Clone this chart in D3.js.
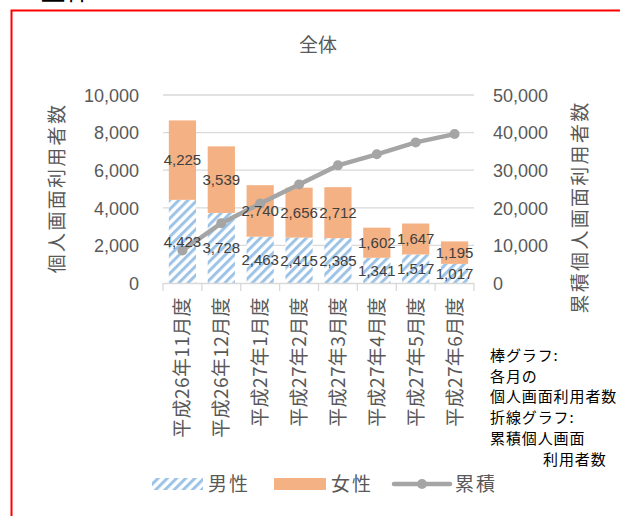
<!DOCTYPE html>
<html lang="ja">
<head>
    <meta charset="UTF-8">
    <title>全体</title>
    <script src="https://d3js.org/d3.v7.min.js"></script>
    <style>
        body {
            margin: 0;
            padding: 0;
            background: #fff;
            font-family: "Liberation Sans", "Noto Sans CJK JP", sans-serif;
        }
        .jp {
            font-family: "Noto Sans CJK JP", sans-serif;
        }
        .axis path, .axis line {
            stroke: none;
        }
        .axis text {
            fill: #595959;
            font-size: 18px;
            font-family: "Liberation Sans", sans-serif;
        }
    </style>
</head>
<body>
    <div id="chart"></div>

    <script>
        const categories = ["平成26年11月度", "平成26年12月度", "平成27年1月度", "平成27年2月度",
            "平成27年3月度", "平成27年4月度", "平成27年5月度", "平成27年6月度"];
        const male = [4423, 3728, 2463, 2415, 2385, 1341, 1517, 1017];
        const female = [4225, 3539, 2740, 2656, 2712, 1602, 1647, 1195];
        const cumulative = [8648, 15915, 21118, 26189, 31286, 34229, 37393, 39605];
        const leftTicks = [0, 2000, 4000, 6000, 8000, 10000];
        const rightTicks = [0, 10000, 20000, 30000, 40000, 50000];
        const noteLines = ["棒グラフ:", "各月の", "個人画面利用者数", "折線グラフ:", "累積個人画面", "利用者数"];

        const width = 620;
        const height = 516;
        const plot = {left: 163, right: 474, top: 95, bottom: 283};

        const svg = d3.select("#chart")
            .append("svg")
            .attr("width", width)
            .attr("height", height);

        // stripe pattern for the male bars
        const defs = svg.append("defs");
        const pat = defs.append("pattern")
            .attr("id", "hatch")
            .attr("patternUnits", "userSpaceOnUse")
            .attr("width", 6.5)
            .attr("height", 6.5)
            .attr("patternTransform", "rotate(45)");
        pat.append("rect").attr("width", 6.5).attr("height", 6.5).attr("fill", "#fff");
        pat.append("rect").attr("width", 3).attr("height", 6.5).attr("fill", "#9DC3E6");

        // page heading cut at the top and the red frame
        svg.append("text")
            .attr("class", "jp")
            .attr("x", 14)
            .attr("y", 0)
            .attr("font-size", 26)
            .attr("fill", "#000")
            .text("・全体");

        svg.append("rect")
            .attr("x", 11.5)
            .attr("y", 10.5)
            .attr("width", 700)
            .attr("height", 700)
            .attr("fill", "none")
            .attr("stroke", "#ff0000")
            .attr("stroke-width", 2);

        const x = d3.scaleBand()
            .domain(categories)
            .range([plot.left, plot.right])
            .paddingInner(0.3)
            .paddingOuter(0.15);

        const y = d3.scaleLinear().domain([0, 10000]).range([plot.bottom, plot.top]);
        const y2 = d3.scaleLinear().domain([0, 50000]).range([plot.bottom, plot.top]);

        // gridlines
        svg.append("g")
            .selectAll("line")
            .data(leftTicks.filter(d => d > 0))
            .enter()
            .append("line")
            .attr("x1", plot.left)
            .attr("x2", plot.right)
            .attr("y1", d => y(d))
            .attr("y2", d => y(d))
            .attr("stroke", "#d9d9d9")
            .attr("stroke-width", 1.3);

        // title
        svg.append("text")
            .attr("class", "jp")
            .attr("x", 318)
            .attr("y", 52)
            .attr("text-anchor", "middle")
            .attr("font-size", 19)
            .attr("fill", "#595959")
            .text("全体");

        // left and right axes
        svg.append("g")
            .attr("class", "axis")
            .attr("transform", `translate(${plot.left - 24},0)`)
            .call(d3.axisLeft(y).tickValues(leftTicks).tickSize(0).tickPadding(0).tickFormat(d3.format(",")));

        svg.append("g")
            .attr("class", "axis")
            .attr("transform", `translate(${plot.right + 19},0)`)
            .call(d3.axisRight(y2).tickValues(rightTicks).tickSize(0).tickPadding(0).tickFormat(d3.format(",")));

        svg.selectAll(".axis text").attr("dy", "0.35em");

        svg.append("text")
            .attr("class", "jp")
            .attr("transform", "translate(64,188) rotate(-90)")
            .attr("text-anchor", "middle")
            .attr("font-size", 19)
            .attr("letter-spacing", 2.3)
            .attr("fill", "#595959")
            .text("個人画面利用者数");

        svg.append("text")
            .attr("class", "jp")
            .attr("transform", "translate(587,207) rotate(-90)")
            .attr("text-anchor", "middle")
            .attr("font-size", 19)
            .attr("letter-spacing", 2.3)
            .attr("fill", "#595959")
            .text("累積個人画面利用者数");

        // stacked bars
        const bars = svg.append("g");
        bars.selectAll("rect.male")
            .data(categories)
            .enter()
            .append("rect")
            .attr("class", "male")
            .attr("x", d => x(d))
            .attr("width", x.bandwidth())
            .attr("y", (d, i) => y(male[i]))
            .attr("height", (d, i) => y(0) - y(male[i]))
            .attr("fill", "url(#hatch)");

        bars.selectAll("rect.female")
            .data(categories)
            .enter()
            .append("rect")
            .attr("class", "female")
            .attr("x", d => x(d))
            .attr("width", x.bandwidth())
            .attr("y", (d, i) => y(male[i] + female[i]))
            .attr("height", (d, i) => y(male[i]) - y(male[i] + female[i]))
            .attr("fill", "#F4B183");

        // x axis line and ticks between categories
        const xAxis = svg.append("g");
        xAxis.append("line")
            .attr("x1", plot.left)
            .attr("x2", plot.right)
            .attr("y1", plot.bottom + 0.5)
            .attr("y2", plot.bottom + 0.5)
            .attr("stroke", "#d9d9d9")
            .attr("stroke-width", 1.3);
        xAxis.selectAll("line.tick")
            .data(d3.range(categories.length + 1))
            .enter()
            .append("line")
            .attr("class", "tick")
            .attr("x1", i => plot.left + i * (plot.right - plot.left) / categories.length)
            .attr("x2", i => plot.left + i * (plot.right - plot.left) / categories.length)
            .attr("y1", plot.bottom)
            .attr("y2", plot.bottom + 8)
            .attr("stroke", "#d9d9d9")
            .attr("stroke-width", 1.3);

        xAxis.selectAll("text")
            .data(categories)
            .enter()
            .append("text")
            .attr("class", "jp")
            .attr("transform", d => `translate(${x(d) + x.bandwidth() / 2 + 7},297) rotate(-90)`)
            .attr("text-anchor", "end")
            .attr("font-size", 19)
            .attr("letter-spacing", 0.4)
            .attr("fill", "#595959")
            .text(d => d);

        // cumulative line
        const line = d3.line()
            .x(d => d[0])
            .y(d => d[1]);
        const pts = categories.map((c, i) => [x(c) + x.bandwidth() / 2, y2(cumulative[i])]);
        svg.append("path")
            .attr("d", line(pts))
            .attr("fill", "none")
            .attr("stroke", "#A5A5A5")
            .attr("stroke-width", 4.5)
            .attr("stroke-linejoin", "round");
        svg.append("g")
            .selectAll("circle")
            .data(pts)
            .enter()
            .append("circle")
            .attr("cx", d => d[0])
            .attr("cy", d => d[1])
            .attr("r", 5)
            .attr("fill", "#A5A5A5");

        // data labels, centred in each segment
        const fmt = d3.format(",");
        const labels = svg.append("g")
            .attr("font-size", 15)
            .attr("fill", "#404040")
            .attr("text-anchor", "middle");
        labels.selectAll("text.m")
            .data(categories)
            .enter()
            .append("text")
            .attr("x", d => x(d) + x.bandwidth() / 2)
            .attr("y", (d, i) => y(male[i] / 2))
            .attr("dy", "0.35em")
            .text((d, i) => fmt(male[i]));
        labels.selectAll("text.f")
            .data(categories)
            .enter()
            .append("text")
            .attr("x", d => x(d) + x.bandwidth() / 2)
            .attr("y", (d, i) => y(male[i] + female[i] / 2))
            .attr("dy", "0.35em")
            .text((d, i) => fmt(female[i]));

        // note on the right
        svg.append("g")
            .selectAll("text")
            .data(noteLines)
            .enter()
            .append("text")
            .attr("class", "jp")
            .attr("x", (d, i) => i === noteLines.length - 1 ? 543 : 490)
            .attr("y", (d, i) => 361 + i * 20.7)
            .attr("font-size", 15)
            .attr("letter-spacing", 0.9)
            .attr("fill", "#000")
            .text(d => d);

        // legend
        const legend = svg.append("g").attr("class", "jp").attr("font-size", 19)
            .attr("letter-spacing", 2).attr("fill", "#595959");
        legend.append("rect").attr("x", 152).attr("y", 478).attr("width", 51).attr("height", 12).attr("fill", "url(#hatch)");
        legend.append("text").attr("x", 208).attr("y", 491).text("男性");
        legend.append("rect").attr("x", 274).attr("y", 478).attr("width", 52).attr("height", 12).attr("fill", "#F4B183");
        legend.append("text").attr("x", 331).attr("y", 491).text("女性");
        legend.append("line").attr("x1", 394).attr("x2", 450).attr("y1", 484).attr("y2", 484)
            .attr("stroke", "#A5A5A5").attr("stroke-width", 4.5).attr("stroke-linecap", "round");
        legend.append("circle").attr("cx", 422).attr("cy", 484).attr("r", 5).attr("fill", "#A5A5A5");
        legend.append("text").attr("x", 455).attr("y", 491).text("累積");
    </script>
</body>
</html>
